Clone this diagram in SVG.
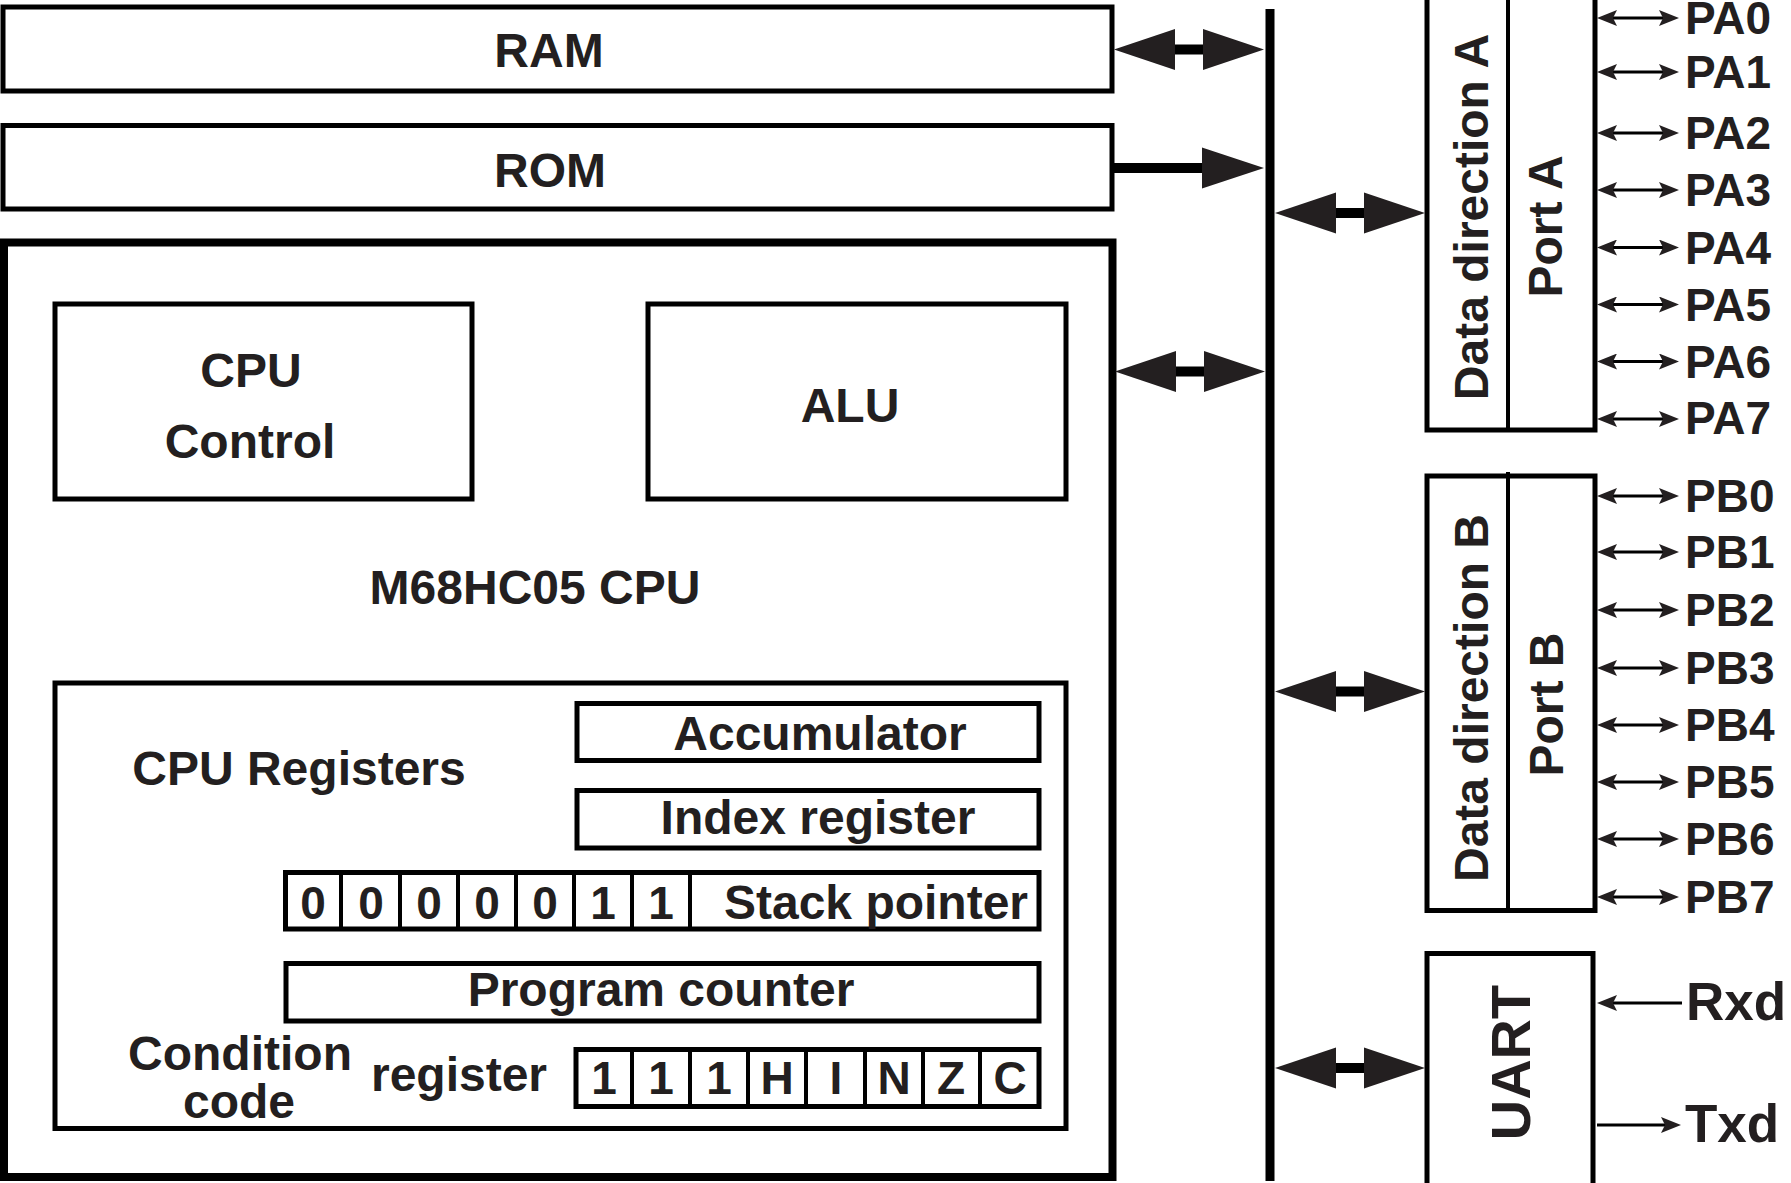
<svg xmlns="http://www.w3.org/2000/svg" xmlns:xlink="http://www.w3.org/1999/xlink" width="1791" height="1183" viewBox="0 0 1791 1183">
  <style>
    .box { fill: #fff; stroke: #000; stroke-width: 5; }
    .thick { fill: #fff; stroke: #000; stroke-width: 8; }
    .div { stroke: #000; stroke-width: 4; fill: none; }
    .t { font-family: "Liberation Sans", Arial, sans-serif; font-weight: bold; fill: #231f20; }
    .c { text-anchor: middle; }
    .f48 { font-size: 48px; }
    .f46 { font-size: 46px; }
    .pin { font-size: 46px; }
    .ser { font-size: 53px; }
    .pinline { stroke: #000; stroke-width: 3; fill: none; }
    .head { fill: #231f20; }
    .bar { fill: #000; }
  </style>
  <defs>
    <!-- small arrowhead for port pins; tip sits 15 beyond the path end -->
    <marker id="pinHead" viewBox="0 0 20 16" refX="5" refY="8" markerWidth="20" markerHeight="16" markerUnits="userSpaceOnUse" orient="auto-start-reverse">
      <path d="M0,0 L20,8 L0,16 L4,8 Z" fill="#231f20"/>
    </marker>
    <!-- wide bidirectional bus arrow, 150 long, centred on y=0 -->
    <g id="busArrow">
      <rect class="bar" x="56" y="-5" width="38" height="10"/>
      <polygon class="head" points="0,0 61,-20.5 61,20.5"/>
      <polygon class="head" points="150,0 89,-20.5 89,20.5"/>
    </g>
  </defs>

  <rect width="1791" height="1183" fill="#fff"/>

  <!-- memory blocks -->
  <g id="ram">
    <rect class="box" x="3" y="7" width="1109" height="84"/>
    <text class="t c f48" x="549" y="67">RAM</text>
  </g>
  <g id="rom">
    <rect class="box" x="3" y="125.5" width="1109" height="83.5"/>
    <text class="t c f48" x="550" y="187">ROM</text>
  </g>

  <!-- CPU core -->
  <g id="cpu">
    <rect class="thick" x="4" y="242.5" width="1108.5" height="934.5"/>
    <text class="t c f48" x="535" y="604">M68HC05 CPU</text>
  </g>
  <g id="cpu-control">
    <rect class="box" x="55" y="304" width="417" height="195"/>
    <text class="t c f48" x="251" y="387">CPU</text>
    <text class="t c f48" x="250" y="458">Control</text>
  </g>
  <g id="alu">
    <rect class="box" x="648" y="304" width="418" height="195"/>
    <text class="t c f48" x="850" y="422">ALU</text>
  </g>

  <!-- register file -->
  <g id="registers">
    <rect class="box" x="55" y="683" width="1011" height="445.5"/>
    <text class="t c f48" x="299" y="785">CPU Registers</text>
  </g>
  <g id="accumulator">
    <rect class="box" x="577" y="703.5" width="462" height="57"/>
    <text class="t c f48" x="820" y="750">Accumulator</text>
  </g>
  <g id="index-register">
    <rect class="box" x="577" y="790.5" width="462" height="57.5"/>
    <text class="t c f48" x="818" y="834">Index register</text>
  </g>
  <g id="stack-pointer">
    <rect class="box" x="285.5" y="872.5" width="753.5" height="56.5"/>
    <path class="div" d="M341,870 V929 M400,870 V929 M458,870 V929 M516,870 V929 M574,870 V929 M632,870 V929 M690,870 V929"/>
    <text class="t c f46" y="919"><tspan x="313">0</tspan><tspan x="371">0</tspan><tspan x="429">0</tspan><tspan x="487">0</tspan><tspan x="545">0</tspan><tspan x="603">1</tspan><tspan x="661">1</tspan></text>
    <text class="t c f48" x="876" y="919">Stack pointer</text>
  </g>
  <g id="program-counter">
    <rect class="box" x="286" y="963.5" width="753" height="57.5"/>
    <text class="t c f48" x="661" y="1006">Program counter</text>
  </g>
  <g id="condition-code">
    <rect class="box" x="576" y="1049.5" width="463" height="57"/>
    <path class="div" d="M632,1047 V1106 M690,1047 V1106 M748,1047 V1106 M806,1047 V1106 M865,1047 V1106 M923,1047 V1106 M980,1047 V1106"/>
    <text class="t c f46" y="1094"><tspan x="604">1</tspan><tspan x="661">1</tspan><tspan x="719">1</tspan><tspan x="777">H</tspan><tspan x="836">I</tspan><tspan x="894">N</tspan><tspan x="951">Z</tspan><tspan x="1010">C</tspan></text>
    <text class="t c f48" x="240" y="1070">Condition</text>
    <text class="t c f48" x="239" y="1118">code</text>
    <text class="t c f48" x="459" y="1091">register</text>
  </g>

  <!-- peripherals -->
  <g id="port-a">
    <rect class="box" x="1427" y="-10" width="168" height="440"/>
    <line class="div" x1="1508" y1="-10" x2="1508" y2="430"/>
    <text class="t c f48" transform="translate(1488,217) rotate(-90)">Data direction A</text>
    <text class="t c f48" transform="translate(1562,226.5) rotate(-90)">Port A</text>
  </g>
  <g id="port-b">
    <rect class="box" x="1427" y="476" width="168" height="434.5"/>
    <line class="div" x1="1508" y1="472" x2="1508" y2="910"/>
    <text class="t c f48" transform="translate(1488,698) rotate(-90)">Data direction B</text>
    <text class="t c f48" transform="translate(1562.5,704.5) rotate(-90)">Port B</text>
  </g>
  <g id="uart">
    <rect class="box" x="1427" y="953.5" width="166" height="232"/>
    <text class="t c" font-size="56" transform="translate(1530,1062.5) rotate(-90)">UART</text>
  </g>

  <!-- pin labels -->
  <g id="pin-labels" class="t pin">
    <text x="1685" y="34">PA0</text>
    <text x="1685" y="88">PA1</text>
    <text x="1685" y="149">PA2</text>
    <text x="1685" y="206">PA3</text>
    <text x="1685" y="263.5">PA4</text>
    <text x="1685" y="320.5">PA5</text>
    <text x="1685" y="377.5">PA6</text>
    <text x="1685" y="434">PA7</text>
    <text x="1685" y="512">PB0</text>
    <text x="1685" y="568">PB1</text>
    <text x="1685" y="626">PB2</text>
    <text x="1685" y="684">PB3</text>
    <text x="1685" y="741">PB4</text>
    <text x="1685" y="798">PB5</text>
    <text x="1685" y="855">PB6</text>
    <text x="1685" y="913">PB7</text>
  </g>
  <g id="serial-labels" class="t ser">
    <text x="1686" y="1020">Rxd</text>
    <text x="1685" y="1142">Txd</text>
  </g>

  <!-- bus and connectors -->
  <g id="connectors">
    <line x1="1270" y1="9" x2="1270" y2="1181" stroke="#000" stroke-width="9"/>
    <use xlink:href="#busArrow" x="1114" y="49.5"/>
    <rect class="bar" x="1112" y="163" width="95" height="10"/>
    <polygon class="head" points="1264,168 1202,147.5 1202,188.5"/>
    <use xlink:href="#busArrow" x="1115" y="371.5"/>
    <use xlink:href="#busArrow" x="1275" y="213"/>
    <use xlink:href="#busArrow" x="1275" y="691.5"/>
    <use xlink:href="#busArrow" x="1275" y="1068"/>

    <g class="pinline" marker-start="url(#pinHead)" marker-end="url(#pinHead)">
      <path d="M1612,18 H1664"/>
      <path d="M1612,72 H1664"/>
      <path d="M1612,133 H1664"/>
      <path d="M1612,190 H1664"/>
      <path d="M1612,247.5 H1664"/>
      <path d="M1612,304.5 H1664"/>
      <path d="M1612,361.5 H1664"/>
      <path d="M1612,419 H1664"/>
      <path d="M1612,496 H1664"/>
      <path d="M1612,552 H1664"/>
      <path d="M1612,610 H1664"/>
      <path d="M1612,668 H1664"/>
      <path d="M1612,725 H1664"/>
      <path d="M1612,782 H1664"/>
      <path d="M1612,839 H1664"/>
      <path d="M1612,897 H1664"/>
    </g>
    <path class="pinline" d="M1612,1003 H1682" marker-start="url(#pinHead)"/>
    <path class="pinline" d="M1597,1125 H1666" marker-end="url(#pinHead)"/>
  </g>
</svg>
